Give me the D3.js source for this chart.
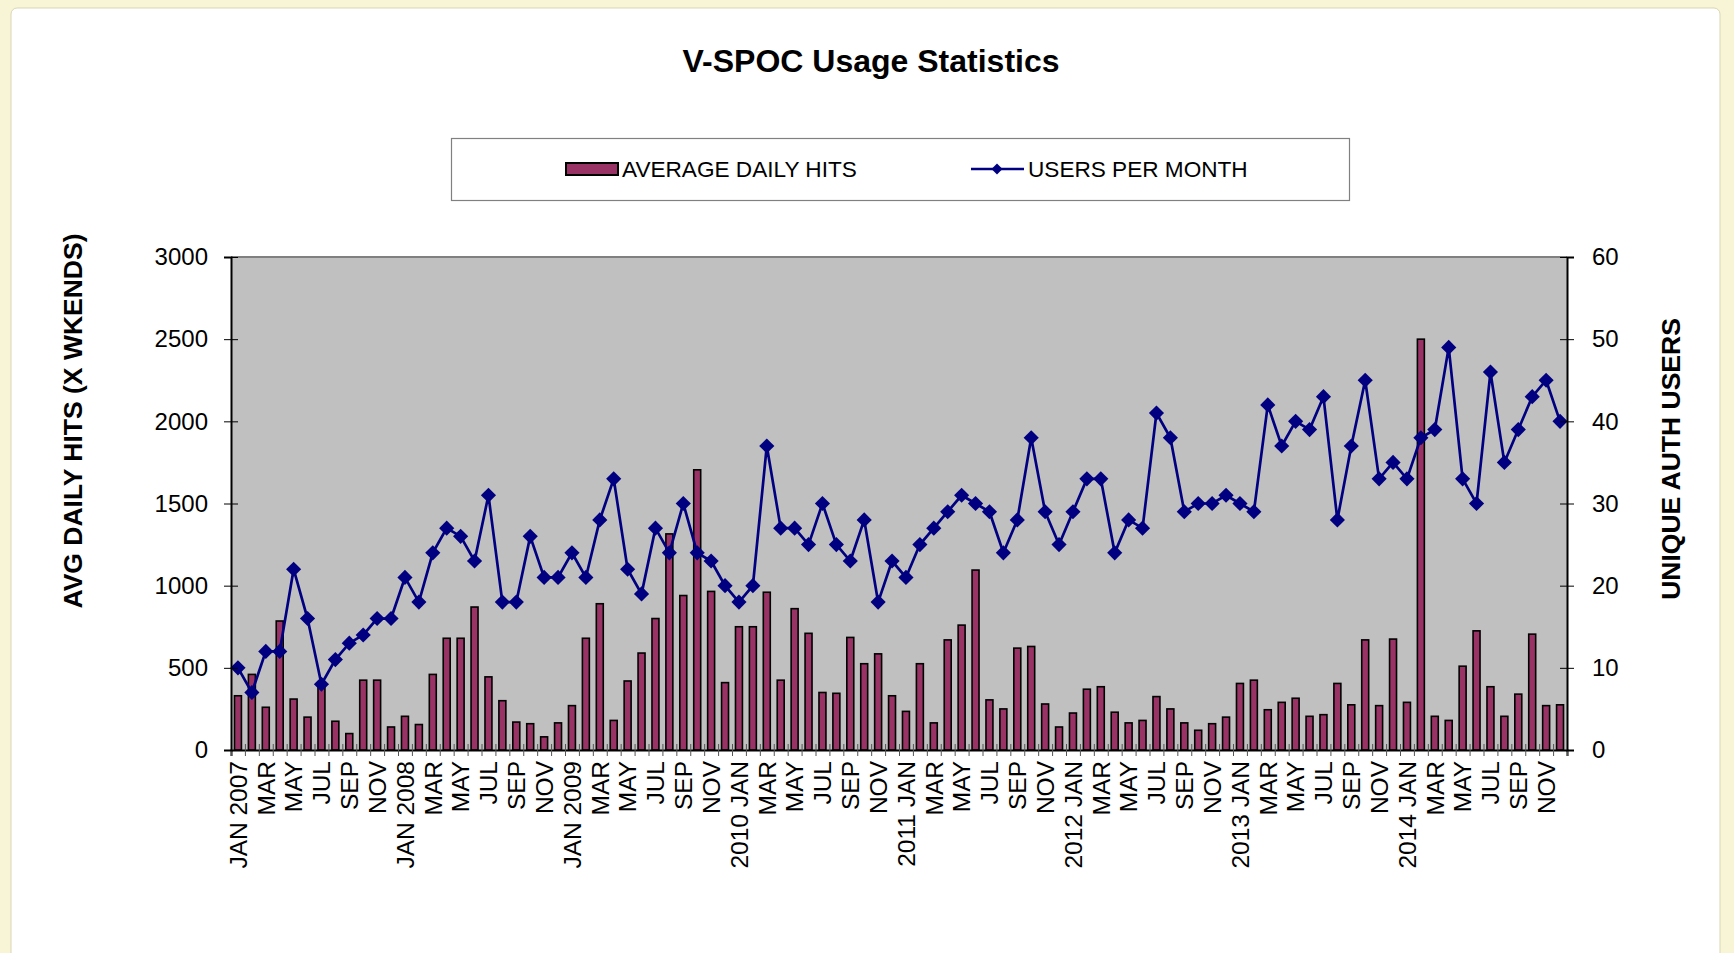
<!DOCTYPE html>
<html>
<head>
<meta charset="utf-8">
<script src="https://cdn.jsdelivr.net/npm/d3@7"></script>
<style>
  body { margin: 0; background: #f8f4d6; }
  svg { display: block; }
  text { font-family: "Liberation Sans", Arial, sans-serif; }
</style>
</head>
<body>
<div id="chart"></div>
<script>
// data
var years = [2007, 2008, 2009, 2010, 2011, 2012, 2013, 2014];
var monthNames = ["JAN","FEB","MAR","APR","MAY","JUN","JUL","AUG","SEP","OCT","NOV","DEC"];

// average daily hits, one per month Jan 2007 .. Dec 2014
var avgDailyHits = [
  330, 460, 260, 785, 310, 200, 390, 175, 100, 425, 425, 140,
  205, 155, 460, 680, 680, 870, 445, 300, 170, 160, 80, 165,
  270, 680, 890, 180, 420, 590, 800, 1315, 940, 1705, 965, 410,
  750, 750, 960, 425, 860, 710, 350, 345, 685, 525, 585, 330,
  235, 525, 165, 670, 760, 1095, 305, 250, 620, 630, 280, 140,
  225, 370, 385, 230, 165, 180, 325, 250, 165, 120, 160, 200,
  405, 425, 245, 290, 315, 205, 215, 405, 275, 670, 270, 675,
  290, 2500, 205, 180, 510, 725, 385, 205, 340, 705, 270, 275
];

// unique auth users per month
var usersPerMonth = [
  10, 7, 12, 12, 22, 16, 8, 11, 13, 14, 16, 16,
  21, 18, 24, 27, 26, 23, 31, 18, 18, 26, 21, 21,
  24, 21, 28, 33, 22, 19, 27, 24, 30, 24, 23, 20,
  18, 20, 37, 27, 27, 25, 30, 25, 23, 28, 18, 23,
  21, 25, 27, 29, 31, 30, 29, 24, 28, 38, 29, 25,
  29, 33, 33, 24, 28, 27, 41, 38, 29, 30, 30, 31,
  30, 29, 42, 37, 40, 39, 43, 28, 37, 45, 33, 35,
  33, 38, 39, 49, 33, 30, 46, 35, 39, 43, 45, 40
];

// labels shown on every other month
var tickLabels = [
  "JAN 2007","MAR","MAY","JUL","SEP","NOV",
  "JAN 2008","MAR","MAY","JUL","SEP","NOV",
  "JAN 2009","MAR","MAY","JUL","SEP","NOV",
  "2010 JAN","MAR","MAY","JUL","SEP","NOV",
  "2011 JAN","MAR","MAY","JUL","SEP","NOV",
  "2012 JAN","MAR","MAY","JUL","SEP","NOV",
  "2013 JAN","MAR","MAY","JUL","SEP","NOV",
  "2014 JAN","MAR","MAY","JUL","SEP","NOV"
];

var leftTicks = [0, 500, 1000, 1500, 2000, 2500, 3000];
var rightTicks = [0, 10, 20, 30, 40, 50, 60];

var categories = [];
years.forEach(function(y) {
  monthNames.forEach(function(m) { categories.push(m + " " + y); });
});

var rows = categories.map(function(c, i) {
  return { cat: c, hits: avgDailyHits[i], users: usersPerMonth[i] };
});

// layout
var width = 1734, height = 953;
var margin = { top: 257, right: 1734 - 1567, bottom: 953 - 750, left: 231 };

var svg = d3.select("#chart")
  .append("svg")
  .attr("width", width)
  .attr("height", height);

// page frame
svg.append("rect")
  .attr("x", 11).attr("y", 8)
  .attr("width", 1709).attr("height", 980)
  .attr("rx", 6)
  .attr("fill", "#ffffff")
  .attr("stroke", "#d9d5b4");

var x = d3.scaleBand()
  .domain(categories)
  .range([margin.left, width - margin.right])
  .paddingInner(0.5)
  .paddingOuter(0.25);

var xEdge = d3.scaleLinear()
  .domain([0, categories.length])
  .range([margin.left, width - margin.right]);

var yLeft = d3.scaleLinear()
  .domain([0, 3000])
  .range([height - margin.bottom, margin.top]);

var yRight = d3.scaleLinear()
  .domain([0, 60])
  .range([height - margin.bottom, margin.top]);

// plot background
svg.append("rect")
  .attr("x", margin.left)
  .attr("y", margin.top)
  .attr("width", width - margin.left - margin.right)
  .attr("height", height - margin.top - margin.bottom)
  .attr("fill", "#c0c0c0");

svg.append("line")
  .attr("x1", margin.left).attr("x2", width - margin.right)
  .attr("y1", margin.top).attr("y2", margin.top)
  .attr("stroke", "#808080")
  .attr("stroke-width", 2);

// bars
svg.append("g")
  .selectAll("rect")
  .data(rows)
  .join("rect")
  .attr("x", function(d) { return x(d.cat); })
  .attr("y", function(d) { return yLeft(d.hits); })
  .attr("width", x.bandwidth())
  .attr("height", function(d) { return yLeft(0) - yLeft(d.hits); })
  .attr("fill", "#993366")
  .attr("stroke", "#000")
  .attr("stroke-width", 1.6);

// line
var line = d3.line()
  .x(function(d) { return x(d.cat) + x.bandwidth() / 2; })
  .y(function(d) { return yRight(d.users); });

svg.append("path")
  .datum(rows)
  .attr("d", line)
  .attr("fill", "none")
  .attr("stroke", "#000080")
  .attr("stroke-width", 2.7);

var diamond = d3.symbol().type(d3.symbolSquare).size(115);

svg.append("g")
  .selectAll("path")
  .data(rows)
  .join("path")
  .attr("d", diamond)
  .attr("transform", function(d) {
    return "translate(" + (x(d.cat) + x.bandwidth() / 2) + "," + yRight(d.users) + ") rotate(45)";
  })
  .attr("fill", "#000080");

// axes
var xAxisTicks = svg.append("g")
  .attr("transform", "translate(0," + (height - margin.bottom) + ")")
  .call(d3.axisBottom(xEdge).tickValues(d3.range(categories.length + 1)).tickSize(6).tickFormat(""));
xAxisTicks.selectAll(".tick line").attr("y1", -6).attr("stroke", "#555");
xAxisTicks.select(".domain").attr("stroke", "#000").attr("stroke-width", 2);

var labelled = categories.filter(function(c, i) { return i % 2 === 0; });
var xAxis = svg.append("g")
  .attr("transform", "translate(0," + (height - margin.bottom) + ")")
  .call(d3.axisBottom(x).tickValues(labelled).tickSize(0)
    .tickFormat(function(c, i) { return tickLabels[i]; }));
xAxis.select(".domain").remove();
xAxis.selectAll("text")
  .attr("transform", "rotate(-90)")
  .attr("text-anchor", "end")
  .attr("x", -11)
  .attr("y", 0)
  .attr("dy", "0.36em")
  .style("font-size", "24.5px")
  .attr("fill", "#000");

var yAxisL = svg.append("g")
  .attr("transform", "translate(" + margin.left + ",0)")
  .call(d3.axisLeft(yLeft).tickValues(leftTicks).tickSize(7).tickPadding(16).tickFormat(d3.format("d")));
yAxisL.selectAll(".tick line").attr("x2", -7).attr("x1", 7).attr("stroke", "#000");
yAxisL.select(".domain").attr("stroke", "#000").attr("stroke-width", 2);
yAxisL.selectAll("text").style("font-size", "24px").attr("fill", "#000");

var yAxisR = svg.append("g")
  .attr("transform", "translate(" + (width - margin.right) + ",0)")
  .call(d3.axisRight(yRight).tickValues(rightTicks).tickSize(7).tickPadding(18).tickFormat(d3.format("d")));
yAxisR.selectAll(".tick line").attr("x1", -7).attr("stroke", "#000");
yAxisR.select(".domain").attr("stroke", "#000").attr("stroke-width", 2);
yAxisR.selectAll("text").style("font-size", "24px").attr("fill", "#000");

// titles
svg.append("text")
  .attr("x", 871).attr("y", 72)
  .attr("text-anchor", "middle")
  .style("font-size", "32px")
  .style("font-weight", "bold")
  .text("V-SPOC Usage Statistics");

svg.append("text")
  .attr("transform", "translate(82,421) rotate(-90)")
  .attr("text-anchor", "middle")
  .style("font-size", "26.5px")
  .style("font-weight", "bold")
  .text("AVG DAILY HITS (X WKENDS)");

svg.append("text")
  .attr("transform", "translate(1680,459) rotate(-90)")
  .attr("text-anchor", "middle")
  .style("font-size", "26.5px")
  .style("font-weight", "bold")
  .text("UNIQUE AUTH USERS");

// legend
var legend = svg.append("g");
legend.append("rect")
  .attr("x", 451.5).attr("y", 138.5)
  .attr("width", 898).attr("height", 62)
  .attr("fill", "#fff")
  .attr("stroke", "#808080")
  .attr("stroke-width", 1.2);

legend.append("rect")
  .attr("x", 566).attr("y", 163)
  .attr("width", 52).attr("height", 12)
  .attr("fill", "#993366")
  .attr("stroke", "#000")
  .attr("stroke-width", 2);

legend.append("text")
  .attr("x", 622).attr("y", 177)
  .style("font-size", "22.6px")
  .text("AVERAGE DAILY HITS");

legend.append("line")
  .attr("x1", 971).attr("x2", 1024)
  .attr("y1", 169).attr("y2", 169)
  .attr("stroke", "#000080")
  .attr("stroke-width", 2.7);

legend.append("path")
  .attr("d", d3.symbol().type(d3.symbolSquare).size(60))
  .attr("transform", "translate(997,169) rotate(45)")
  .attr("fill", "#000080");

legend.append("text")
  .attr("x", 1028).attr("y", 177)
  .style("font-size", "22.6px")
  .text("USERS PER MONTH");
</script>
</body>
</html>
